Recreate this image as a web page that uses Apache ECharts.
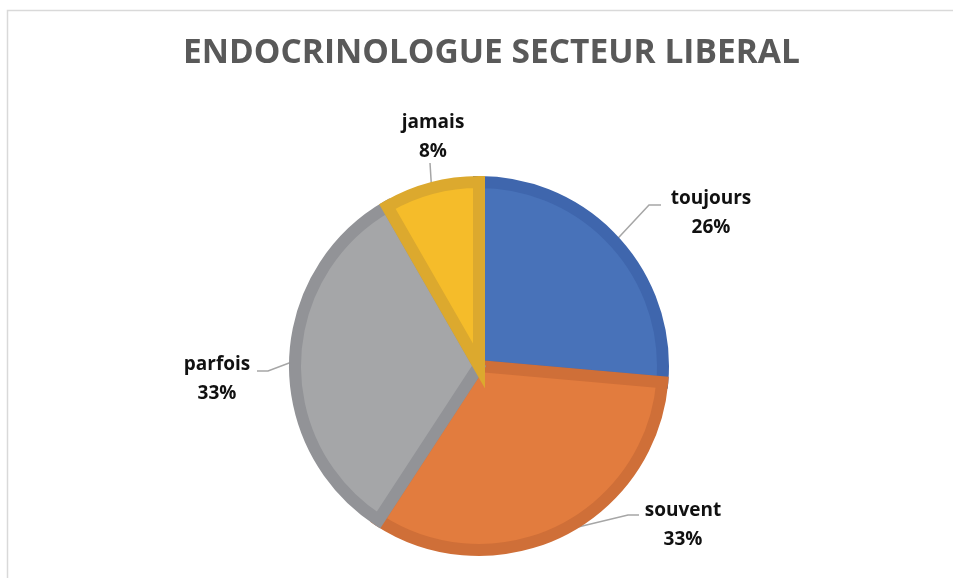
<!DOCTYPE html>
<html>
<head>
<meta charset="utf-8">
<script src="https://cdn.jsdelivr.net/npm/echarts@6/dist/echarts.min.js"></script>
<style>
html,body{margin:0;padding:0;background:#fff;}
#chart{width:953px;height:578px;}
</style>
</head>
<body>
<div id="chart"></div>
<script>
// ---- data ----
const categories = ['toujours', 'souvent', 'parfois', 'jamais'];
const values = [26.4, 32.8, 32.5, 8.3];
const titleText = 'ENDOCRINOLOGUE SECTEUR LIBERAL';

// ---- styles ----
const fillColors = ['#4872B9', '#E27C3E', '#A5A6A8', '#F5BC2A'];
const edgeColors = ['#3F66AD', '#CF6F38', '#929397', '#DCA92E'];
// label anchor (centre of text block) and leader bend points
const labelAnchors = [[711, 213], [683, 525], [217, 379], [433, 137]];
const leaderBends = [
  [[649, 205], [661, 205]],
  [[628, 515], [639, 515]],
  [[268, 371], [257, 371]],
  [[430, 163]]
];

const chart = echarts.init(document.getElementById('chart'), null, {renderer: 'canvas'});

const data = categories.map((c, i) => ({
  name: c,
  value: values[i],
  itemStyle: {color: fillColors[i], borderColor: edgeColors[i]}
}));

chart.setOption({
  backgroundColor: '#ffffff',
  animation: false,
  title: {
    text: titleText,
    left: 178,
    top: 31,
    textStyle: {
      fontFamily: 'Open Sans',
      fontWeight: 'bold',
      fontSize: 33.5,
      color: '#595959'
    }
  },
  graphic: [{
    type: 'rect',
    shape: {x: 7.5, y: 10.5, width: 980, height: 620},
    style: {fill: 'none', stroke: '#d9d9d9', lineWidth: 1.5},
    silent: true,
    z: -10
  }],
  series: [{
    type: 'pie',
    center: [479, 366],
    radius: 184,
    startAngle: 90,
    clockwise: true,
    data: data,
    itemStyle: {borderWidth: 12, borderJoin: 'miter'},
    label: {
      show: true,
      position: 'outside',
      formatter: p => p.name + '\n' + Math.round(p.percent) + '%',
      fontFamily: 'Open Sans',
      fontWeight: 'bold',
      fontSize: 19,
      lineHeight: 29,
      color: '#111111',
      align: 'center'
    },
    labelLine: {
      show: true,
      length: 20,
      length2: 10,
      lineStyle: {color: '#A6A6A6', width: 1.5}
    },
    labelLayout: function (params) {
      const i = params.dataIndex;
      const start = params.labelLinePoints ? params.labelLinePoints[0] : null;
      const out = {
        x: labelAnchors[i][0],
        y: labelAnchors[i][1],
        align: 'center',
        verticalAlign: 'middle'
      };
      if (start) {
        out.labelLinePoints = [start].concat(leaderBends[i]);
      }
      return out;
    }
  }]
});
</script>
</body>
</html>
